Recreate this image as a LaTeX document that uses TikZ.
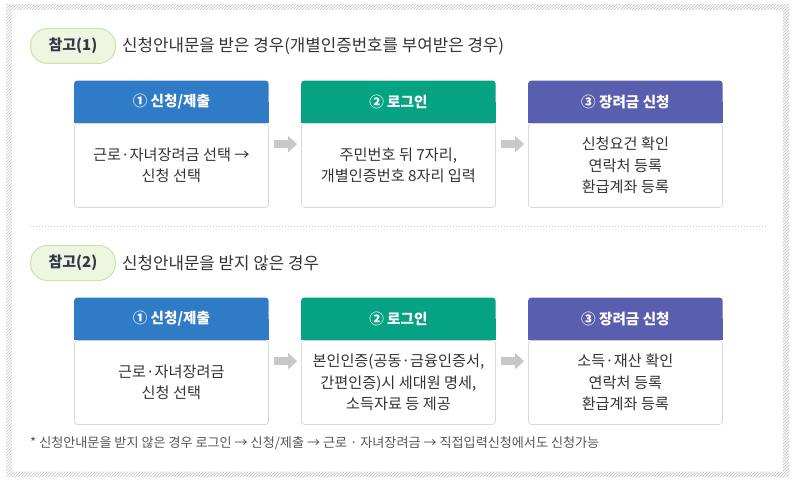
\documentclass[tikz,border=0pt]{standalone}
\usepackage{fontspec}
\setmainfont{Noto Sans CJK KR}
\usetikzlibrary{calc,arrows.meta}
\definecolor{hblue}{HTML}{2F7BC6}
\definecolor{hgreen}{HTML}{05A384}
\definecolor{hpurple}{HTML}{5A5EAE}
\definecolor{cardline}{HTML}{D9D9D9}
\definecolor{pillfill}{HTML}{EEF6E2}
\definecolor{pillline}{HTML}{C8E69E}
\definecolor{pilltext}{HTML}{33394A}
\definecolor{maintext}{HTML}{333333}
\definecolor{notetext}{HTML}{555555}
\definecolor{arrowgray}{HTML}{C8C8C8}
\definecolor{hatch}{HTML}{C4C6CE}
\definecolor{sepline}{HTML}{C8C8C8}
\tikzset{
  cardbody/.style={draw=cardline, fill=white, rounded corners=3pt, line width=0.8pt,
    minimum width=194pt, minimum height=84pt, inner sep=0pt, align=center,
    font=\fontsize{15.2}{21.5}\selectfont, text=maintext, anchor=north west},
  cardhead/.style={rounded corners=3pt, minimum width=194pt, minimum height=42pt,
    inner sep=0pt, anchor=south},
  headtext/.style={font=\bfseries\fontsize{14.6}{16}\selectfont, text=white},
  pill/.style={draw=pillline, fill=pillfill, line width=1pt, rounded corners=17pt,
    minimum width=85pt, minimum height=35pt, inner sep=0pt,
    font=\bfseries\fontsize{15}{17}\selectfont, text=pilltext, anchor=north west},
  titletext/.style={font=\fontsize{16.8}{18}\selectfont, text=maintext, anchor=west, inner sep=0pt},
  notestyle/.style={font=\fontsize{13.1}{14}\selectfont, text=notetext, anchor=west, inner sep=0pt},
  flowarrow/.style={draw=arrowgray, line width=8pt, line cap=butt,
    -{Triangle[length=9pt,width=16pt]}},
}
\newcommand{\headfill}[2]{%
  \fill[#2, rounded corners=3pt] (#1.south west) rectangle (#1.north east);
  \fill[#2] (#1.south west) rectangle (#1.east);
}
\begin{document}
\begin{tikzpicture}[x=1pt,y=-1pt]
\useasboundingbox (0,0) rectangle (795,481);
% hatched frame
\begin{scope}[even odd rule]
  \clip (6,4) rectangle (789,477) (12,10) rectangle (783,471.5);
  \foreach \i in {-490,-487,...,800} {
    \draw[hatch, line width=0.7pt] (\i,481) -- (\i+481,0);
  }
\end{scope}
% separator
\draw[sepline, line width=1pt, dash pattern=on 1.2pt off 1.8pt] (30,226.5) -- (766,226.5);

% ---------- section 1 ----------
\node[pill] (p1) at (30,28) {참고(1)};
\node[titletext] (t1) at (122,46) {신청안내문을 받은 경우(개별인증번호를 부여받은 경우)};

\node[cardbody] (b11) at (74,123) {근로·자녀장려금 선택 →\\신청 선택};
\node[cardhead] (h11) at (b11.north) {};
\headfill{h11}{hblue}
\node[headtext] at (h11) {① 신청/제출};

\node[cardbody] (b12) at (301,123) {주민번호 뒤 7자리,\\개별인증번호 8자리 입력};
\node[cardhead] (h12) at (b12.north) {};
\headfill{h12}{hgreen}
\node[headtext] at (h12) {② 로그인};

\node[cardbody] (b13) at (528,123) {신청요건 확인\\연락처 등록\\환급계좌 등록};
\node[cardhead] (h13) at (b13.north) {};
\headfill{h13}{hpurple}
\node[headtext] at (h13) {③ 장려금 신청};

\draw[flowarrow] ($(h11.north east)!0.5!(b11.south east)+(5,0)$) -- ($(h12.north west)!0.5!(b12.south west)+(-4,0)$);
\draw[flowarrow] ($(h12.north east)!0.5!(b12.south east)+(5,0)$) -- ($(h13.north west)!0.5!(b13.south west)+(-4,0)$);

% ---------- section 2 ----------
\node[pill] (p2) at (30,245) {참고(2)};
\node[titletext] (t2) at (122,263) {신청안내문을 받지 않은 경우};

\node[cardbody] (b21) at (74,340) {근로·자녀장려금\\신청 선택};
\node[cardhead] (h21) at (b21.north) {};
\headfill{h21}{hblue}
\node[headtext] at (h21) {① 신청/제출};

\node[cardbody] (b22) at (301,340) {본인인증(공동·금융인증서,\\간편인증)시 세대원 명세,\\소득자료 등 제공};
\node[cardhead] (h22) at (b22.north) {};
\headfill{h22}{hgreen}
\node[headtext] at (h22) {② 로그인};

\node[cardbody] (b23) at (528,340) {소득·재산 확인\\연락처 등록\\환급계좌 등록};
\node[cardhead] (h23) at (b23.north) {};
\headfill{h23}{hpurple}
\node[headtext] at (h23) {③ 장려금 신청};

\draw[flowarrow] ($(h21.north east)!0.5!(b21.south east)+(5,0)$) -- ($(h22.north west)!0.5!(b22.south west)+(-4,0)$);
\draw[flowarrow] ($(h22.north east)!0.5!(b22.south east)+(5,0)$) -- ($(h23.north west)!0.5!(b23.south west)+(-4,0)$);

\node[notestyle] (note) at (30,443) {* 신청안내문을 받지 않은 경우 로그인 → 신청/제출 → 근로 · 자녀장려금 → 직접입력신청에서도 신청가능};
\end{tikzpicture}
\end{document}
